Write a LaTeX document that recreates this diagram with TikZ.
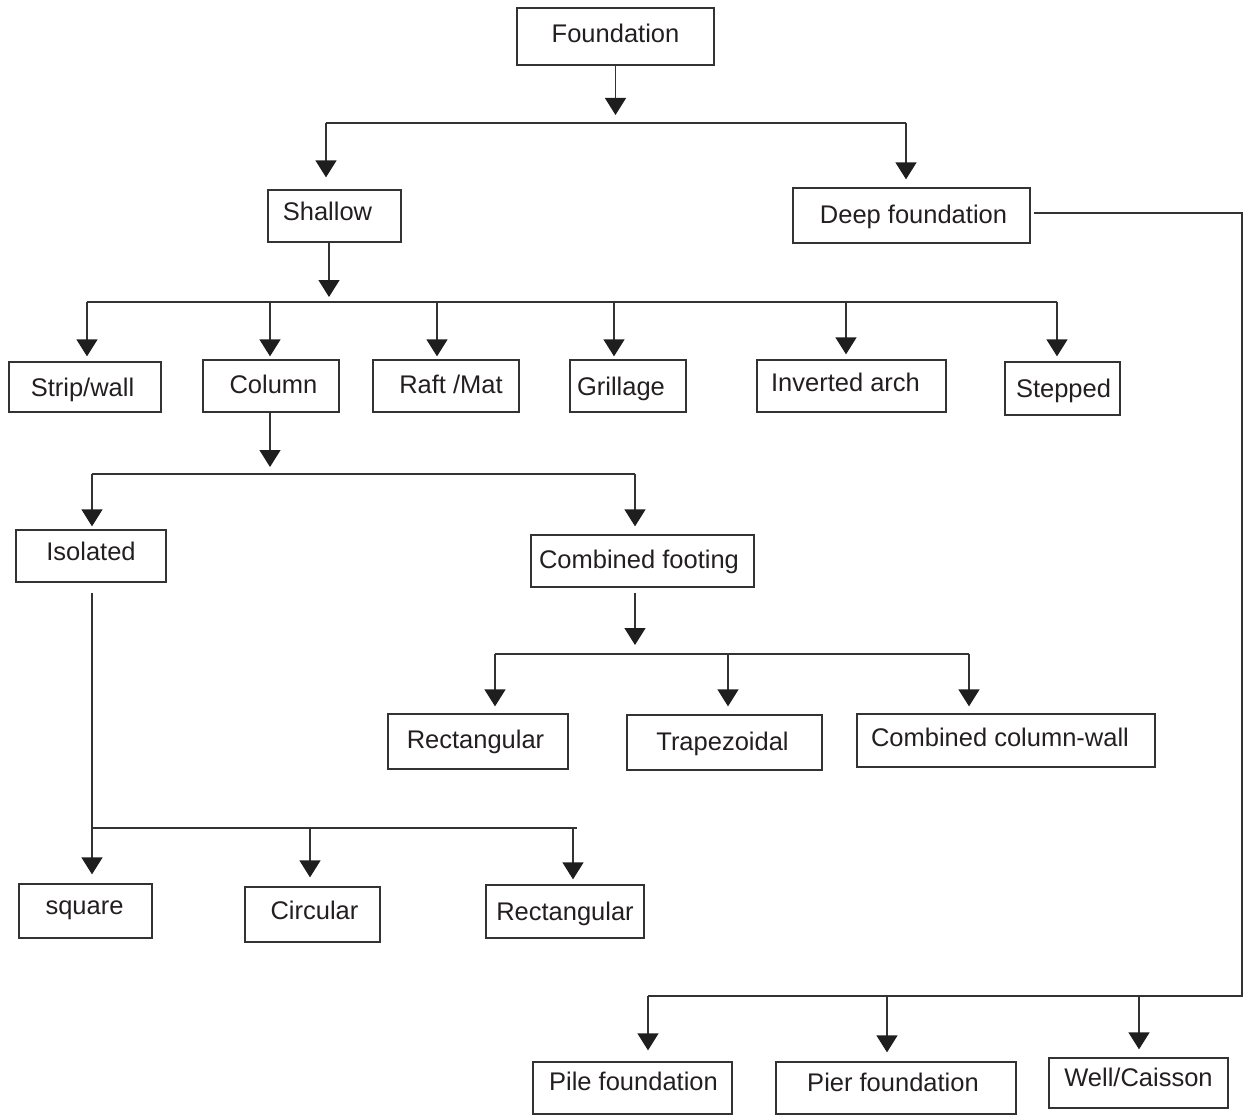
\documentclass[tikz,border=0pt]{standalone}
\usepackage{fontspec}
\setmainfont{Liberation Sans}
\usetikzlibrary{arrows.meta}
\definecolor{ln}{HTML}{333333}
\definecolor{hd}{HTML}{1E1E1E}
\definecolor{tx}{HTML}{231F20}
\newcommand\tx[3]{\raisebox{#2pt}{\makebox[0pt]{\hspace*{#1pt}\hspace*{#1pt}#3}}}
\tikzset{
  box/.style={draw=ln, line width=1.3pt, inner sep=0pt, text=tx,
    text height=18.3pt, text depth=0pt},
  conn/.style={draw=ln, line width=1.4pt},
  arr/.style={conn, -{Triangle[width=21pt,length=17pt,color=hd]}},
}
\begin{document}
\begin{tikzpicture}[x=1pt,y=-1pt,font=\fontsize{25.5}{30}\selectfont]
\useasboundingbox (0,0) rectangle (1244,1115);
% boxes
\node[box,minimum width=197pt,minimum height=57pt] (found) at (615.5,36.5) {\tx{0}{3}{Foundation}};
\node[box,minimum width=133pt,minimum height=52pt] (shallow) at (334.5,216) {\tx{-7}{5}{Shallow}};
\node[box,minimum width=237pt,minimum height=55pt] (deep) at (911.5,215.5) {\tx{2}{1.5}{Deep foundation}};
\node[box,minimum width=152pt,minimum height=50pt] (strip) at (85,387) {\tx{-2.5}{0}{Strip/wall}};
\node[box,minimum width=136pt,minimum height=52pt] (column) at (271,386) {\tx{2.5}{2}{Column}};
\node[box,minimum width=146pt,minimum height=52pt] (raft) at (446,386) {\tx{5}{2}{Raft /Mat}};
\node[box,minimum width=116pt,minimum height=52pt] (grill) at (628,386) {\tx{-7}{0}{Grillage}};
\node[box,minimum width=189pt,minimum height=52pt] (inv) at (851.5,386) {\tx{-6}{4}{Inverted arch}};
\node[box,minimum width=115pt,minimum height=53pt] (step) at (1062.5,388.5) {\tx{1}{0}{Stepped}};
\node[box,minimum width=150pt,minimum height=52pt] (iso) at (91,556) {\tx{0}{5}{Isolated}};
\node[box,minimum width=223pt,minimum height=52pt] (comb) at (642.5,561) {\tx{-3.5}{2}{Combined footing}};
\node[box,minimum width=180pt,minimum height=55pt] (rectA) at (478,741.5) {\tx{-2.5}{2.5}{Rectangular}};
\node[box,minimum width=195pt,minimum height=55pt] (trap) at (724.5,742.5) {\tx{-2}{1.5}{Trapezoidal}};
\node[box,minimum width=298pt,minimum height=53pt] (ccw) at (1006,740.5) {\tx{-6}{3.5}{Combined column-wall}};
\node[box,minimum width=133pt,minimum height=54pt] (sq) at (85.5,911) {\tx{-1}{6}{square}};
\node[box,minimum width=135pt,minimum height=55pt] (circ) at (312.5,914.5) {\tx{2}{4.5}{Circular}};
\node[box,minimum width=158pt,minimum height=53pt] (rectB) at (565,911.5) {\tx{0}{0}{Rectangular}};
\node[box,minimum width=199pt,minimum height=52pt] (pile) at (632.5,1088) {\tx{1}{6.5}{Pile foundation}};
\node[box,minimum width=240pt,minimum height=52pt] (pier) at (896,1088) {\tx{-3}{6}{Pier foundation}};
\node[box,minimum width=179pt,minimum height=50pt] (well) at (1138.5,1083) {\tx{0}{5.5}{Well/Caisson}};
% coordinates
\coordinate (b1l) at (326,123); \coordinate (b1r) at (906,123);
\coordinate (s2) at (329,302);
\coordinate (b2l) at (87,302); \coordinate (b2r) at (1057,302);
\coordinate (c22) at (270,302); \coordinate (c23) at (437,302);
\coordinate (c24) at (614,302); \coordinate (c25) at (846,302);
\coordinate (b3l) at (92,474); \coordinate (b3r) at (635,474);
\coordinate (s3) at (270,474);
\coordinate (b4l) at (495,654); \coordinate (b4m) at (728,654); \coordinate (b4r) at (969,654);
\coordinate (s4) at (635,654);
\coordinate (b5l) at (92,828); \coordinate (b5m) at (310,828); \coordinate (b5r) at (577,828);
\coordinate (c53) at (573,828);
\coordinate (d1) at (1242,213); \coordinate (b6r) at (1242,996); \coordinate (b6l) at (648,996);
\coordinate (b6m) at (887,996); \coordinate (b6w) at (1139,996);
% level 1
\draw[arr,shorten >=8pt] (found) -- (found |- b1l);
\draw[conn] (b1l) -- (b1r);
\draw[arr,shorten >=12pt] (b1l) -- (b1l |- shallow.north);
\draw[arr,shorten >=8pt] (b1r) -- (b1r |- deep.north);
% shallow
\draw[arr,shorten >=5pt] (s2 |- shallow.south) -- (s2);
\draw[conn] (b2l) -- (b2r);
\draw[arr,shorten >=5pt] (b2l) -- (b2l |- strip.north);
\draw[arr,shorten >=3pt] (c22) -- (c22 |- column.north);
\draw[arr,shorten >=3pt] (c23) -- (c23 |- raft.north);
\draw[arr,shorten >=3pt] (c24) -- (c24 |- grill.north);
\draw[arr,shorten >=5pt] (c25) -- (c25 |- inv.north);
\draw[arr,shorten >=5pt] (b2r) -- (b2r |- step.north);
% column
\draw[arr,shorten >=7pt] (s3 |- column.south) -- (s3);
\draw[conn] (b3l) -- (b3r);
\draw[arr,shorten >=3pt] (b3l) -- (b3l |- iso.north);
\draw[arr,shorten >=8pt] (b3r) -- (b3r |- comb.north);
% combined footing
\draw[arr,shorten <=5pt,shorten >=9pt] (s4 |- comb.south) -- (s4);
\draw[conn] (b4l) -- (b4r);
\draw[arr,shorten >=7pt] (b4l) -- (b4l |- rectA.north);
\draw[arr,shorten >=8pt] (b4m) -- (b4m |- trap.north);
\draw[arr,shorten >=7pt] (b4r) -- (b4r |- ccw.north);
% isolated
\draw[conn,shorten <=10pt] (b5l |- iso.south) -- (b5l) -- (b5r);
\draw[arr,shorten >=9pt] (b5l) -- (b5l |- sq.north);
\draw[arr,shorten >=9pt] (b5m) -- (b5m |- circ.north);
\draw[arr,shorten >=5pt] (c53) -- (c53 |- rectB.north);
% deep
\draw[conn,shorten <=3pt] (deep.east |- d1) -- (d1) -- (b6r) -- (b6l);
\draw[arr,shorten >=11pt] (b6l) -- (b6l |- pile.north);
\draw[arr,shorten >=9pt] (b6m) -- (b6m |- pier.north);
\draw[arr,shorten >=8pt] (b6w) -- (b6w |- well.north);
\end{tikzpicture}
\end{document}
